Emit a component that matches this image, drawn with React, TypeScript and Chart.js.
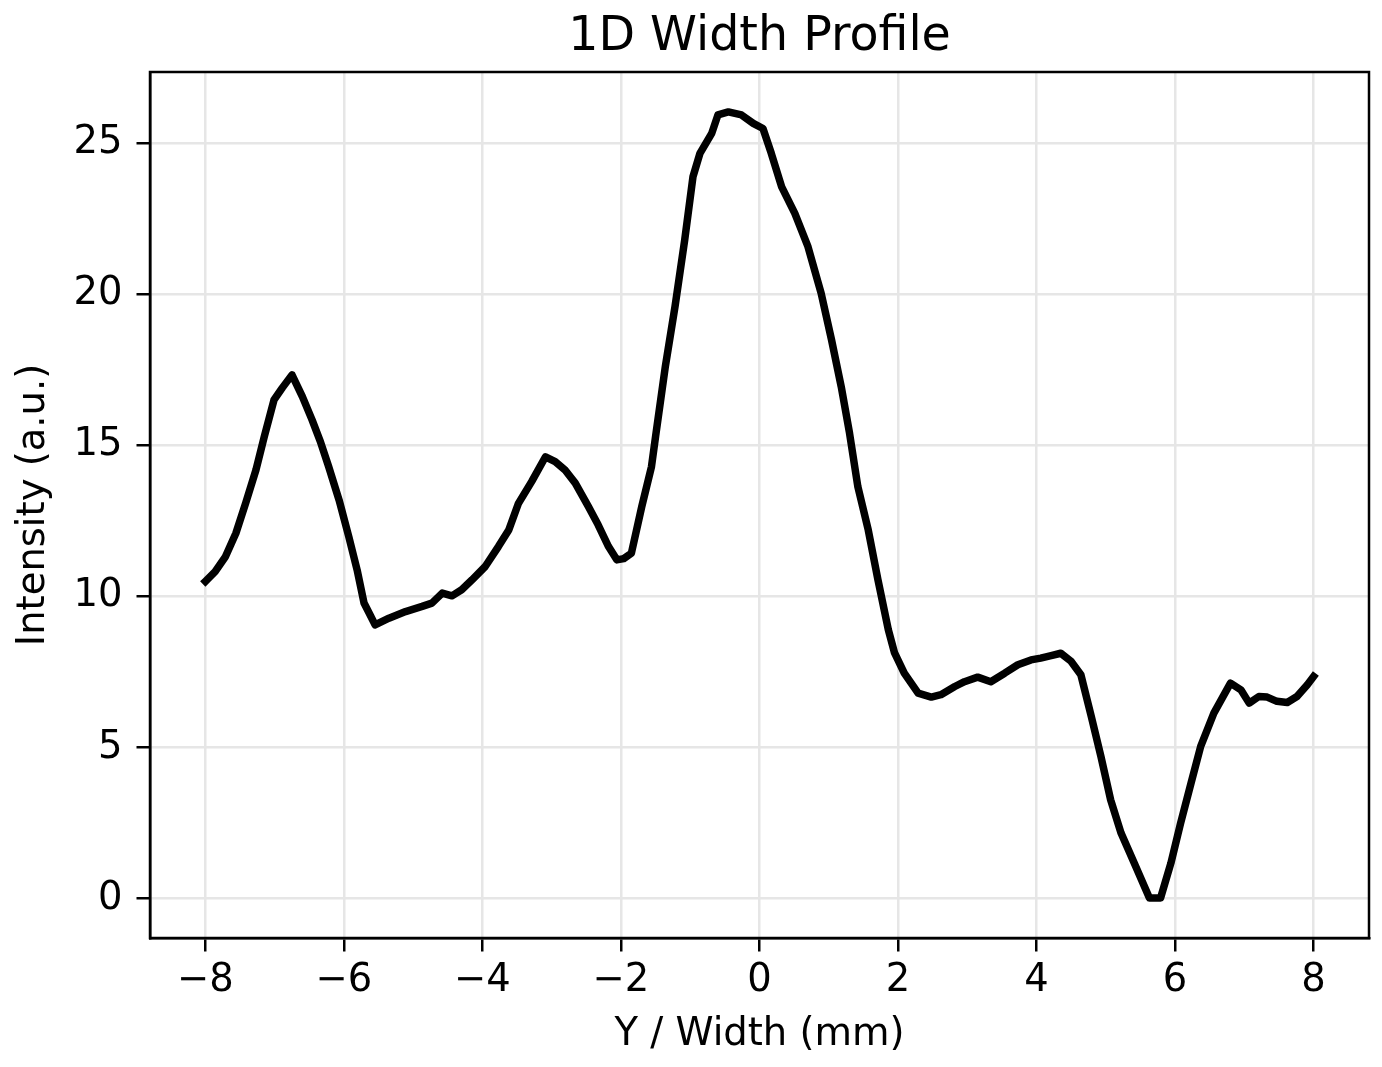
import React, { useEffect, useRef } from "react";
import { Chart, registerables } from "chart.js";

Chart.register(...registerables);

// Lateral position across the width (mm)
const widthMm = [
  -8.0, -7.86, -7.71, -7.56, -7.42, -7.27, -7.15, -7.01, -6.89, -6.75,
  -6.6, -6.46, -6.34, -6.22, -6.07, -5.93, -5.81, -5.71, -5.62, -5.55,
  -5.35, -5.11, -4.87, -4.73, -4.58, -4.44, -4.3, -4.15, -3.96, -3.77,
  -3.62, -3.48, -3.29, -3.09, -2.95, -2.81, -2.66, -2.47, -2.33, -2.18,
  -2.06, -1.96, -1.85, -1.7, -1.56, -1.5, -1.36, -1.22, -1.08, -0.96,
  -0.86, -0.69, -0.6, -0.45, -0.26, -0.09, 0.05, 0.17, 0.32, 0.51,
  0.7, 0.89, 1.04, 1.18, 1.3, 1.42, 1.57, 1.71, 1.86, 1.95,
  2.09, 2.19, 2.29, 2.48, 2.62, 2.82, 2.96, 3.15, 3.34, 3.54,
  3.73, 3.92, 4.06, 4.21, 4.35, 4.5, 4.64, 4.79, 4.93, 5.07,
  5.22, 5.41, 5.63, 5.79, 5.94, 6.08, 6.23, 6.37, 6.56, 6.8,
  6.95, 7.07, 7.21, 7.33, 7.47, 7.62, 7.76, 7.91, 8.0,
];

// Measured intensity (a.u.)
const intensity = [
  10.5, 10.82, 11.32, 12.09, 13.08, 14.19, 15.29, 16.5, 16.9, 17.33,
  16.61, 15.84, 15.12, 14.29, 13.19, 11.98, 10.88, 9.78, 9.38, 9.06,
  9.28, 9.5, 9.67, 9.78, 10.11, 10.02, 10.22, 10.55, 10.99, 11.65,
  12.2, 13.08, 13.8, 14.62, 14.46, 14.19, 13.75, 12.97, 12.37, 11.65,
  11.21, 11.25, 11.43, 12.97, 14.29, 15.3, 17.6, 19.59, 21.79, 23.89,
  24.66, 25.32, 25.93, 26.03, 25.93, 25.65, 25.48, 24.66, 23.55, 22.67,
  21.57, 20.03, 18.49, 16.94, 15.4, 13.63, 12.2, 10.55, 8.9, 8.13,
  7.46, 7.13, 6.8, 6.67, 6.75, 7.02, 7.18, 7.33, 7.18, 7.46,
  7.74, 7.9, 7.96, 8.04, 8.12, 7.85, 7.41, 6.03, 4.7, 3.27,
  2.17, 1.18, 0.02, 0.02, 1.18, 2.5, 3.82, 5.04, 6.14, 7.13,
  6.91, 6.47, 6.69, 6.67, 6.53, 6.49, 6.69, 7.08, 7.35,
];

const xTickValues = [-8, -6, -4, -2, 0, 2, 4, 6, 8];
const yTickValues = [0, 5, 10, 15, 20, 25];

const titleText = "1D Width Profile";
const xLabel = "Y / Width (mm)";
const yLabel = "Intensity (a.u.)";

const FONT = "'DejaVu Sans', sans-serif";
const W = 1382;
const H = 1067;

const fmt = (v: number) => (v < 0 ? `\u2212${Math.abs(v)}` : `${v}`);

// Closed frame around the axes plus the title above it
const framePlugin = {
  id: "frameAndTitle",
  afterDraw(chart: any) {
    const { ctx, chartArea } = chart;
    const { left, top, right, bottom } = chartArea;
    ctx.save();
    ctx.strokeStyle = "#000";
    ctx.lineWidth = 2.5;
    ctx.strokeRect(left, top, right - left, bottom - top);
    ctx.fillStyle = "#000";
    ctx.font = `47.5px ${FONT}`;
    ctx.textAlign = "center";
    ctx.textBaseline = "alphabetic";
    ctx.fillText(titleText, (left + right) / 2, 50);
    ctx.restore();
  },
};

export default function App() {
  const canvasRef = useRef<HTMLCanvasElement | null>(null);

  useEffect(() => {
    const canvas = canvasRef.current;
    if (!canvas) return;
    const points = widthMm.map((x, i) => ({ x, y: intensity[i] }));
    const chart = new Chart(canvas, {
      type: "line",
      data: {
        datasets: [
          {
            data: points,
            borderColor: "#000",
            borderWidth: 7.5,
            pointRadius: 0,
            tension: 0,
            borderJoinStyle: "round",
            borderCapStyle: "square",
            fill: false,
          },
        ],
      },
      options: {
        animation: false,
        responsive: false,
        maintainAspectRatio: false,
        devicePixelRatio: 1,
        layout: { padding: { top: 72, right: 13, left: 0, bottom: 0 } },
        plugins: {
          legend: { display: false },
          title: { display: false },
          tooltip: { enabled: false },
        },
        scales: {
          x: {
            type: "linear",
            min: -8.8,
            max: 8.8,
            afterFit: (scale: any) => {
              scale.height = H - 938;
            },
            afterBuildTicks: (scale: any) => {
              scale.ticks = xTickValues.map((value) => ({ value }));
            },
            grid: {
              color: "#e6e6e6",
              lineWidth: 2.5,
              drawTicks: true,
              tickLength: 13.5,
              tickColor: "#000",
              tickWidth: 2.5,
            },
            border: { display: true, color: "#000", width: 2.5 },
            ticks: {
              color: "#000",
              font: { family: FONT, size: 38.5 },
              padding: 6,
              maxRotation: 0,
              autoSkip: false,
              callback: (v: any) => fmt(Number(v)),
            },
            title: {
              display: true,
              text: xLabel,
              color: "#000",
              font: { family: FONT, size: 38.5 },
              padding: { top: 0, bottom: 9 },
            },
          },
          y: {
            type: "linear",
            min: -1.3,
            max: 27.35,
            afterFit: (scale: any) => {
              scale.width = 150;
            },
            afterBuildTicks: (scale: any) => {
              scale.ticks = yTickValues.map((value) => ({ value }));
            },
            grid: {
              color: "#e6e6e6",
              lineWidth: 2.5,
              drawTicks: true,
              tickLength: 13.5,
              tickColor: "#000",
              tickWidth: 2.5,
            },
            border: { display: true, color: "#000", width: 2.5 },
            ticks: {
              color: "#000",
              font: { family: FONT, size: 38.5 },
              padding: 14,
              autoSkip: false,
              callback: (v: any) => fmt(Number(v)),
            },
            title: {
              display: true,
              text: yLabel,
              color: "#000",
              font: { family: FONT, size: 38.5 },
              padding: { top: 11, bottom: 0 },
            },
          },
        },
      },
      plugins: [framePlugin],
    });
    return () => chart.destroy();
  }, []);

  return (
    <div
      style={{
        position: "fixed",
        left: 0,
        top: 0,
        width: W,
        height: H,
        background: "#fff",
      }}
    >
      <canvas ref={canvasRef} width={W} height={H} style={{ width: W, height: H }} />
    </div>
  );
}
